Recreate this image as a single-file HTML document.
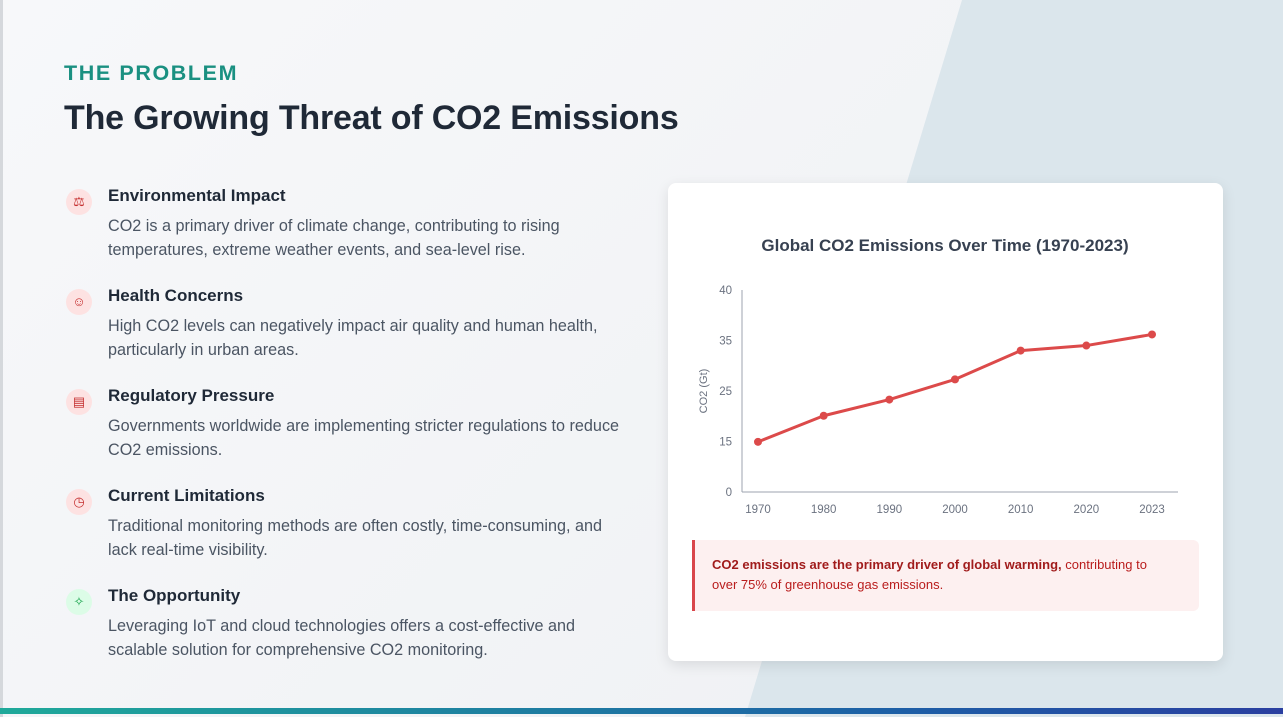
<!DOCTYPE html>
<html><head><meta charset="utf-8"><style>
*{margin:0;padding:0;box-sizing:border-box}
body{width:1283px;height:717px;overflow:hidden;position:relative;font-family:"Liberation Sans",sans-serif;background:linear-gradient(135deg,#f7f8fa,#eef0f3)}
.diag{position:absolute;left:0;top:0;width:1283px;height:717px}
.kicker{position:absolute;left:64px;top:61px;font-size:21.5px;font-weight:bold;color:#1a9081;letter-spacing:1.6px}
h1{position:absolute;left:64px;top:99px;font-size:34px;font-weight:bold;color:#1f2937;letter-spacing:-0.2px}
.item{position:absolute;left:66px;width:560px}
.icon{position:absolute;left:0;top:4px;width:26px;height:26px;border-radius:50%;background:#fde2e2;color:#c53030;font-size:13px;text-align:center;line-height:26px}
.item h3{position:absolute;left:42px;top:1px;font-size:17px;font-weight:bold;color:#1f2937;white-space:nowrap}
.item p{position:absolute;left:42px;top:29px;font-size:16.2px;line-height:24px;color:#4b5563;width:515px}
.card{position:absolute;left:668px;top:183px;width:555px;height:478px;background:#fff;border-radius:8px;box-shadow:0 4px 14px rgba(0,0,0,.1)}
.callout{position:absolute;left:24px;top:357px;width:507px;height:71px;background:#fdf0f0;border-left:3px solid #d9464b;border-radius:0 6px 6px 0;padding:15px 40px 15px 17px;font-size:13px;line-height:20px;color:#b91c1c}
.bar{position:absolute;left:0;top:708px;width:1283px;height:6px;background:linear-gradient(90deg,#1fa99a,#1d5fa6 70%,#2a3fa0)}
</style></head><body>
<svg class="diag" width="1283" height="717"><polygon points="962,0 1283,0 1283,717 745,717" fill="#dbe6ec"/><rect x="0" y="0" width="3" height="717" fill="#d5d8dc"/></svg>
<div class="kicker">THE PROBLEM</div>
<h1>The Growing Threat of CO2 Emissions</h1>

<div class="item" style="top:185px"><div class="icon">⚖</div><h3>Environmental Impact</h3><p>CO2 is a primary driver of climate change, contributing to rising temperatures, extreme weather events, and sea-level rise.</p></div>
<div class="item" style="top:285px"><div class="icon">☺</div><h3>Health Concerns</h3><p>High CO2 levels can negatively impact air quality and human health, particularly in urban areas.</p></div>
<div class="item" style="top:385px"><div class="icon">▤</div><h3>Regulatory Pressure</h3><p>Governments worldwide are implementing stricter regulations to reduce CO2 emissions.</p></div>
<div class="item" style="top:485px"><div class="icon">◷</div><h3>Current Limitations</h3><p>Traditional monitoring methods are often costly, time-consuming, and lack real-time visibility.</p></div>
<div class="item" style="top:585px"><div class="icon" style="background:#dcfce7;color:#16a34a">✧</div><h3>The Opportunity</h3><p>Leveraging IoT and cloud technologies offers a cost-effective and scalable solution for comprehensive CO2 monitoring.</p></div>

<div class="card">
<svg id="chart" width="555" height="350" style="position:absolute;left:0;top:0"></svg>
<div class="callout"><b style="color:#a11c1c">CO2 emissions are the primary driver of global warming,</b> contributing to over 75% of greenhouse gas emissions.</div>
</div>
<div class="bar"></div>

<script>
const years=['1970','1980','1990','2000','2010','2020','2023'];
const emissions=[14.9,20.1,23.3,27.3,33.0,34.0,35.6];
const yTicks=[0,15,25,35,40];
const ns='http://www.w3.org/2000/svg';
const svg=document.getElementById('chart');
const L=74,R=510,T=107,B=309,X0=90,X1=484;
function x(i){return X0+(X1-X0)*i/(years.length-1);}
function y(v){const n=yTicks.length-1,step=(B-T)/n;
 for(let k=0;k<n;k++){if(v<=yTicks[k+1]||k===n-1){return B-step*(k+(v-yTicks[k])/(yTicks[k+1]-yTicks[k]));}}}
function el(t,a,txt){const e=document.createElementNS(ns,t);for(const k in a)e.setAttribute(k,a[k]);if(txt!==undefined)e.textContent=txt;svg.appendChild(e);return e;}
let e=el('text',{x:277,y:68,'text-anchor':'middle','font-size':17,'font-weight':'bold',fill:'#374151'},'Global CO2 Emissions Over Time (1970-2023)');


e=el('line',{x1:L,y1:T,x2:L,y2:B,stroke:'#9ca3af','stroke-width':1});


e=el('line',{x1:L,y1:B,x2:R,y2:B,stroke:'#9ca3af','stroke-width':1});


yTicks.forEach(v=>{const t=el('text',{x:L-10,y:y(v)+4,'text-anchor':'end','font-size':11.5,fill:'#6b7280'},String(v));

});
years.forEach((yr,i)=>{const t=el('text',{x:x(i),y:B+21,'text-anchor':'middle','font-size':11.5,fill:'#6b7280'},yr);

});
e=el('text',{x:0,y:0,transform:'translate('+(L-35)+','+((T+B)/2)+') rotate(-90)','text-anchor':'middle','font-size':11,fill:'#6b7280'},'CO2 (Gt)');


e=el('polyline',{points:emissions.map((v,i)=>x(i)+','+y(v)).join(' '),fill:'none',stroke:'#dc4a4a','stroke-width':3,'stroke-linejoin':'round'});


emissions.forEach((v,i)=>{const c=el('circle',{cx:x(i),cy:y(v),r:4,fill:'#dc4a4a'});

});
</script>
</body></html>
